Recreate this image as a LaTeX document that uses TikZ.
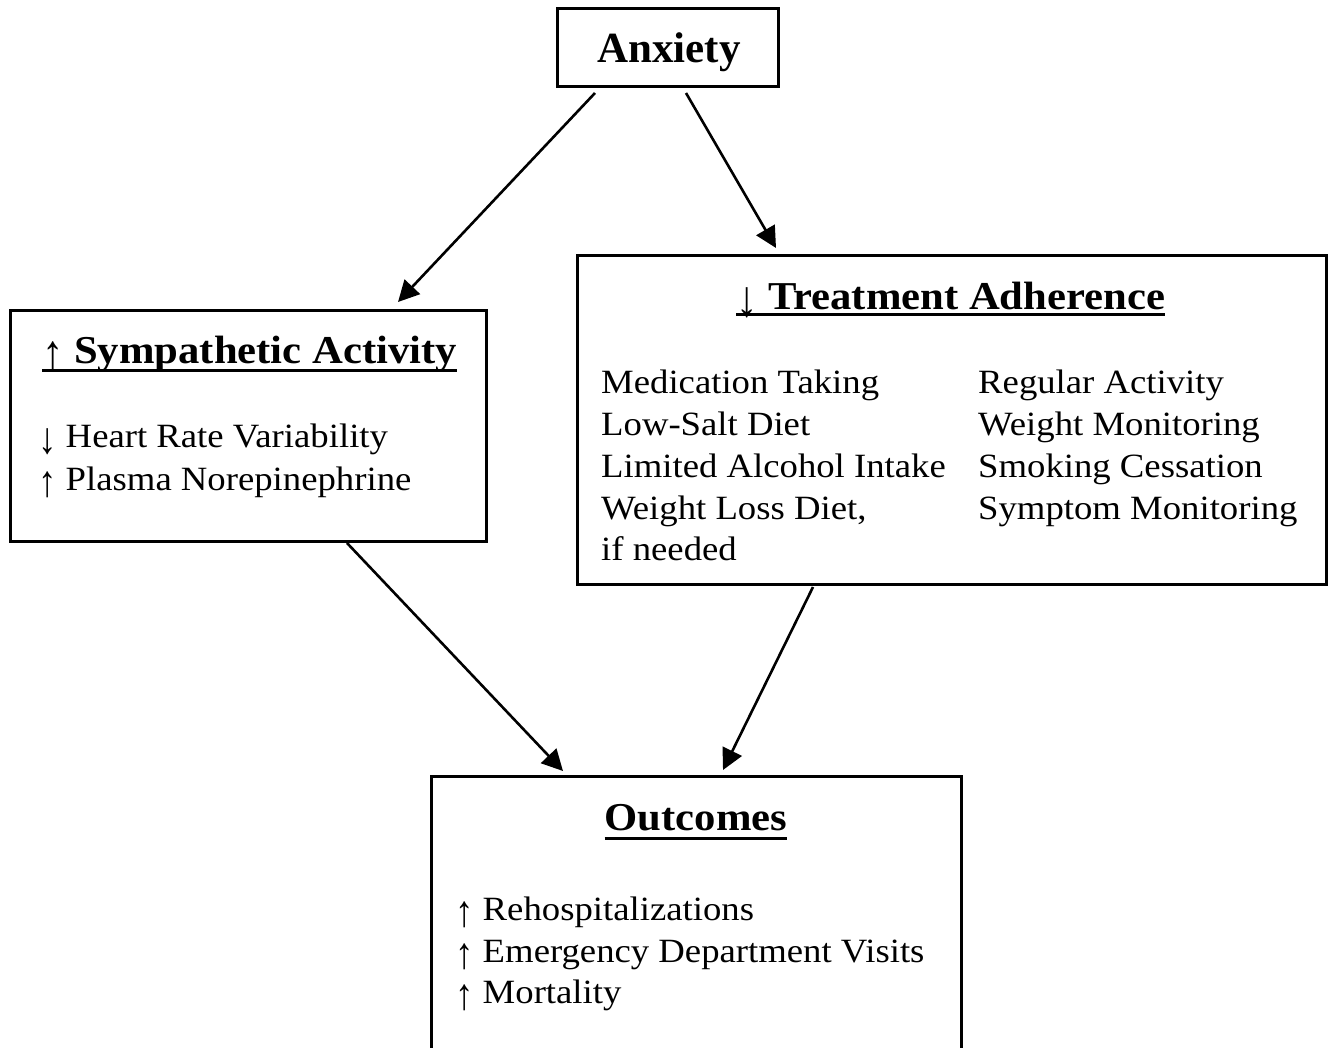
\documentclass[tikz,border=0pt]{standalone}
\usepackage{fontspec}
\setmainfont{Liberation Serif}[FakeStretch=1.08]
\newfontfamily\anxfont{Liberation Serif}
\usetikzlibrary{arrows.meta}
\newcommand{\upa}{{\mdseries\smash{\raisebox{-0.18em}{\scalebox{1}[1.3]{↑}}}}}
\newcommand{\dna}{{\mdseries\smash{\raisebox{-0.18em}{\scalebox{1}[1.3]{↓}}}}}
\tikzset{
 box/.style={draw, line width=3pt, rectangle, inner sep=0pt, outer sep=0pt},
 ttl/.style={inner sep=0pt, anchor=base west, font=\bfseries\fontsize{39.5}{47}\selectfont},
 txt/.style={inner sep=0pt, anchor=base west, font=\fontsize{34}{42}\selectfont},
 arr/.style={line width=2.6pt, -{Triangle[length=21pt,width=21pt]}},
 uline/.style={line width=3pt}
}
\begin{document}
\begin{tikzpicture}[x=1pt,y=-1pt]
\useasboundingbox (0,0) rectangle (1332,1048);
\fill[white] (0,0) rectangle (1332,1048);
\clip (0,0) rectangle (1332,1048);
% boxes
\node[box, minimum width=221pt, minimum height=78pt] (anx) at (667.5,48) {};
\node[box, minimum width=476pt, minimum height=230pt] (sym) at (248,426) {};
\node[box, minimum width=749pt, minimum height=328pt] (trt) at (951.5,420) {};
\node[box, minimum width=530pt, minimum height=320pt] (out) at (696,936) {};
% texts
\node[inner sep=0pt, anchor=base, font=\anxfont\bfseries\fontsize{43}{50}\selectfont] (anxt) at (669,63) {Anxiety};
\node[ttl] (symt) at (42,363) {\upa\ Sympathetic Activity};
\draw[uline] ([yshift=-7pt]symt.base west) -- ([yshift=-7pt]symt.base east);
\node[txt] (s1) at (38,447) {\dna\ Heart Rate Variability};
\node[txt] (s2) at (38,490) {\upa\ Plasma Norepinephrine};
\node[ttl] (trtt) at (736,309) {\dna\ Treatment Adherence};
\draw[uline] ([yshift=-6pt]trtt.base west) -- ([yshift=-6pt]trtt.base east);
\node[txt] (t1) at (601,393) {Medication Taking};
\node[txt] (t2) at (601,435) {Low-Salt Diet};
\node[txt] (t3) at (601,477) {Limited Alcohol Intake};
\node[txt] (t4) at (601,519) {Weight Loss Diet,};
\node[txt] (t5) at (601,560) {if needed};
\node[txt] (r1) at (978,393) {Regular Activity};
\node[txt] (r2) at (978,435) {Weight Monitoring};
\node[txt] (r3) at (978,477) {Smoking Cessation};
\node[txt] (r4) at (978,519) {Symptom Monitoring};
\node[ttl, anchor=base] (outt) at (696,830) {Outcomes};
\draw[uline] ([yshift=-8pt]outt.base west) -- ([yshift=-8pt]outt.base east);
\node[txt] (o1) at (455,920) {\upa\ Rehospitalizations};
\node[txt] (o2) at (455,962) {\upa\ Emergency Department Visits};
\node[txt] (o3) at (455,1003) {\upa\ Mortality};
% connectors
\draw[arr] ([xshift=-72.5pt,yshift=-6pt]anx.south) -- ([xshift=150pt,yshift=9pt]sym.north);
\draw[arr] ([xshift=18.5pt,yshift=-6pt]anx.south) -- ([xshift=-175.5pt,yshift=8pt]trt.north);
\draw[arr] ([xshift=99pt,yshift=-2pt]sym.south) -- ([xshift=-133pt,yshift=5pt]out.north);
\draw[arr] ([xshift=-138.5pt,yshift=-3pt]trt.south) -- ([xshift=27pt,yshift=6pt]out.north);
\end{tikzpicture}
\end{document}
